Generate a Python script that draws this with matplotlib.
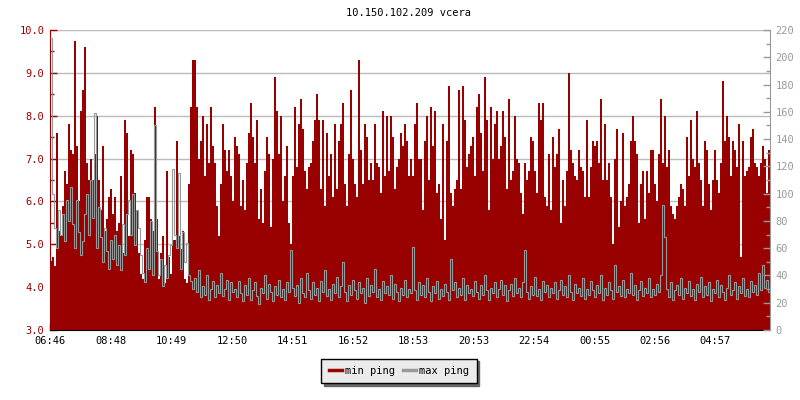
import matplotlib.pyplot as plt
from matplotlib.lines import Line2D
import numpy as np

title = '10.150.102.209 vcera'
tick_labels = ['06:46', '08:48', '10:49', '12:50', '14:51', '16:52',
               '18:53', '20:53', '22:54', '00:55', '02:56', '04:57']
tick_minutes = [0, 122, 243, 364, 485, 606, 727, 847, 968, 1089, 1210, 1331]
step_minutes = 4  # one sample every 4 minutes, 06:46 -> 06:46

# min ping, ms (left axis)
min_ping = [
    4.6, 4.7, 4.5, 7.6, 5.3, 5.2, 5.9, 6.7, 6.4, 7.8,
    7.2, 7.1, 9.75, 7.3, 6.0, 8.1, 8.6, 9.6, 6.9, 6.5,
    7.0, 6.5, 7.1, 8.0, 6.5, 5.8, 7.3, 5.3, 5.6, 6.1,
    6.3, 5.7, 6.1, 5.3, 5.5, 6.6, 4.8, 7.9, 7.6, 5.2,
    7.2, 7.1, 6.2, 5.8, 4.8, 4.3, 4.2, 5.1, 6.1, 6.1,
    5.6, 5.3, 8.2, 5.6, 4.2, 4.8, 5.2, 4.1, 6.7, 4.7,
    4.3, 5.1, 5.1, 7.4, 5.2, 4.9, 5.3, 4.2, 4.1, 6.4,
    8.2, 9.3, 9.3, 8.2, 7.0, 7.4, 8.0, 6.6, 7.8, 6.9,
    8.2, 7.3, 6.9, 5.9, 5.2, 6.4, 7.8, 7.2, 6.7, 7.2,
    6.6, 6.0,
    7.5, 7.3, 7.1, 5.9, 6.5, 5.8, 6.9, 7.6, 8.3, 7.5,
    6.9, 7.9, 5.6, 6.3, 5.5, 6.7, 7.5, 7.1, 5.4, 7.0,
    8.9, 8.1, 7.1, 8.0, 6.0, 6.6, 7.3, 5.5, 5.0, 6.6,
    8.2, 6.8, 7.8, 8.4, 7.7, 6.7, 6.3, 6.8, 6.9, 7.4,
    7.9, 8.5, 7.9, 6.3, 7.9, 5.9, 7.6, 6.6, 7.1, 6.1,
    7.8, 6.3, 7.4, 7.8, 8.3, 6.4, 5.9, 7.1, 8.6, 7.0,
    6.4, 6.1, 9.3, 7.2, 6.4, 7.8, 7.5, 6.5, 6.9, 6.5,
    7.8, 6.9, 6.8, 6.2, 8.1, 6.6, 8.0, 6.7, 8.0, 7.5,
    6.3, 6.8, 7.0, 7.6, 7.3, 7.8, 7.4, 6.6, 7.0, 6.6,
    7.8,
    8.3, 7.0, 7.0, 5.8, 7.4, 8.0, 6.5, 8.2, 7.3, 8.1,
    6.2, 6.4, 5.6, 7.8, 5.1, 7.4, 8.7, 6.2, 5.9, 6.3,
    6.5, 8.6, 6.3, 8.7, 7.9, 6.8, 7.1, 7.3, 7.5, 6.6,
    8.2, 8.5, 7.6, 6.7, 8.9, 7.9, 5.8, 8.2, 7.0, 7.8,
    8.1, 7.0, 7.3, 8.1, 7.5, 6.3, 8.4, 6.5, 6.7, 8.0,
    7.0, 6.9, 6.2, 5.7, 6.9, 6.5, 6.7, 7.5, 7.4, 6.7,
    6.2, 8.3, 7.9, 8.3, 6.1, 5.9, 7.1, 5.8, 7.5, 6.8,
    7.1, 7.7, 5.5, 6.5, 5.9, 6.7, 9.0, 7.2, 6.9, 6.6,
    6.5, 7.2, 6.8, 6.7, 6.1, 7.9, 6.1, 6.8, 7.4, 7.3,
    7.4, 6.9, 8.4, 6.5, 7.8, 6.5, 6.9, 6.1, 5.0, 7.0,
    7.7, 5.4, 6.0, 7.6, 5.9, 6.1, 6.4, 7.4, 8.0, 7.4,
    7.1, 5.5, 6.4, 6.7, 5.6, 6.7, 6.2, 7.2, 7.2, 6.4,
    6.0, 7.1, 8.4, 6.9, 8.0, 6.8, 7.2, 5.9, 5.7, 5.6,
    5.9, 6.1, 6.4, 6.3, 5.9, 7.5, 6.6, 7.9, 7.0, 6.8,
    8.1, 6.9, 6.5, 5.9, 7.4, 7.2, 6.4, 5.8, 6.5, 7.2,
    6.5, 6.2, 6.9, 8.8, 7.4, 8.0, 7.5, 6.6, 7.4, 7.2,
    6.8, 7.8, 4.7, 7.4, 6.6, 6.7, 6.8, 7.5, 7.7, 6.9,
    6.8, 6.6, 6.9, 7.3, 7.0, 6.2, 7.2,
]

# max ping, ms (right axis)
max_ping = [
    214, 100, 75, 60, 88, 70, 85, 65, 95, 80,
    105, 78, 60, 95, 72, 55, 65, 85, 100, 70,
    110, 82, 159, 60, 90, 68, 50, 75, 58, 45,
    66, 52, 70, 48, 62, 44, 78, 55, 85, 95,
    70, 100, 62, 88, 75, 55, 42, 35, 60, 45,
    80, 40, 150, 58, 40, 52, 32, 48, 38, 55,
    62, 118, 70, 60, 115, 45, 72, 50, 64, 40,
    36, 30, 38, 28, 44, 24, 32, 26, 40, 22,
    30, 36, 24, 33, 27, 42, 25, 30, 37, 22,
    35, 28,
    30, 24, 36, 27, 21, 33, 26, 38, 22, 29, 35, 25, 19, 31, 27, 40, 23, 34, 28, 21,
    32, 26, 37, 24, 30, 22, 35, 28, 59, 31, 25, 33, 20, 38, 27, 24, 42, 29, 23, 35,
    26, 31, 21, 36, 28, 44, 25, 30, 22, 34, 27, 39, 24, 32, 50, 28, 21, 33, 26, 37,
    29, 23, 35, 27, 31, 20, 38, 25, 33, 28, 45, 24, 30, 22, 36, 27, 32, 26, 40, 23,
    34, 28, 21, 31, 26, 37, 24, 30, 27, 61, 29, 22, 35, 26, 33, 24, 38, 28, 21, 32,
    27, 36, 23, 30, 25, 34, 28, 22, 52, 29, 35, 24, 31, 26, 38, 22, 33, 27, 30, 25,
    36, 28, 23, 33, 26, 40, 29, 22, 31, 27, 35, 24, 30, 37, 26, 33, 21, 29, 34, 25,
    38, 27, 31, 24, 35, 59, 28, 23, 32, 26, 39, 25, 30, 22, 36, 28, 33, 24, 31, 27,
    35, 23, 29, 37, 26, 32, 24, 40, 28, 22, 34, 27, 31, 25, 38, 23, 30, 26, 36, 29,
    24, 33, 27, 40, 22, 31, 26, 35, 29, 23, 48, 28, 32, 25, 37, 24, 30, 27, 42, 26,
    33, 22, 29, 36, 25, 31, 27, 38, 24, 30, 26, 34, 28, 40, 92, 68, 30, 24, 35, 22,
    29, 33, 26, 38, 23, 31, 27, 36, 25, 30, 22, 34, 28, 39, 24, 32, 26, 35, 21, 30,
    27, 37, 24, 33, 28, 22, 31, 40, 26, 29, 35, 23, 32, 27, 38, 25, 30, 24, 36, 28,
    33, 26, 42, 29, 48, 31, 37, 28,
]

red = '#990000'
grey = '#999999'

edges = np.arange(len(min_ping) + 1) * step_minutes

plt.rcParams['font.family'] = 'DejaVu Sans Mono'
plt.rcParams['font.size'] = 7.5

fig = plt.figure(figsize=(8, 4), dpi=100)
ax = fig.add_axes([0.0625, 0.175, 0.9, 0.75])
ax2 = ax.twinx()

ax.set_axisbelow(True)
ax.yaxis.grid(True, color='#bbbbbb', lw=1)
ax.stairs(min_ping, edges, baseline=3.0, fill=True, color=red, lw=0)
ax2.stairs(max_ping, edges, baseline=None, color=grey, lw=0.8)

ax.set_xlim(0, edges[-1])
ax.set_ylim(3, 10)
ax2.set_ylim(0, 220)

ax.set_xticks(tick_minutes)
ax.set_xticklabels(tick_labels)
ax.tick_params(axis='x', direction='in', length=5, width=1, colors='black', pad=4)

ax.set_yticks(np.arange(3, 10.01, 1))
ax.set_yticklabels(['%.1f' % v for v in np.arange(3, 10.01, 1)])
ax.set_yticks(np.arange(3.5, 10, 1), minor=True)
ax.tick_params(axis='y', which='major', direction='in', length=5, width=1, colors=red, pad=4)
ax.tick_params(axis='y', which='minor', direction='in', length=3, width=1, colors=red)

ax2.set_yticks(np.arange(0, 221, 20))
ax2.set_yticks(np.arange(10, 220, 20), minor=True)
ax2.tick_params(axis='y', which='major', direction='in', length=5, width=1, colors=grey, pad=4)
ax2.tick_params(axis='y', which='minor', direction='in', length=3, width=1, colors=grey)

for a in (ax, ax2):
    a.spines['top'].set_visible(False)
ax.spines['right'].set_visible(False)
ax.spines['left'].set_color(red)
ax.spines['bottom'].set_color('black')
ax2.spines['left'].set_visible(False)
ax2.spines['bottom'].set_visible(False)
ax2.spines['right'].set_color(grey)

fig.text(409 / 800, 1 - 13 / 400, title, ha='center', va='center', fontsize=7.5)

handles = [Line2D([], [], color=red, lw=2.5), Line2D([], [], color=grey, lw=2.5)]
fig.legend(handles, ['min ping', 'max ping'], loc='center',
           bbox_to_anchor=(399 / 800, 1 - 371 / 400), ncol=2,
           fancybox=False, edgecolor='black', facecolor='#ebebeb', framealpha=1,
           shadow={'color': '#666666', 'alpha': 1},
           handlelength=1.3, handletextpad=0.3, columnspacing=0.7, borderpad=0.7)

plt.savefig('out.png', dpi=100)
